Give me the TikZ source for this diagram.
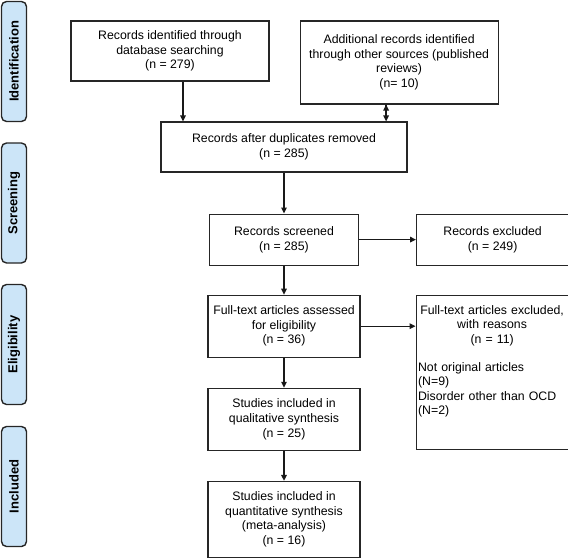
\documentclass[tikz,border=0pt]{standalone}
\usepackage{fontspec}
\setmainfont{Liberation Sans}
\usetikzlibrary{arrows.meta,positioning}
\definecolor{phaseblue}{RGB}{204,229,248}

\begin{document}
\begin{tikzpicture}[x=1pt, y=-1pt, ->, >={Triangle[length=6pt,width=5.5pt]}, node distance=30pt,
  font=\fontsize{12.3}{14.6}\selectfont]

        \tikzstyle{box}=[draw=black!85, line width=1.1pt, align=center, inner sep=2pt]
        \tikzstyle{phase}=[draw=black!85, line width=1.4pt, rounded corners=5pt, fill=phaseblue, rotate=90,
          minimum width=120pt, minimum height=25pt, font=\bfseries\fontsize{13}{15}\selectfont]

        \useasboundingbox (0,0) rectangle (568,558);

        % phases on the left
        \node[phase] (identification) at (14,61.5)  {Identification};
        \node[phase] (screening)      at (14,203)   {Screening};
        \node[phase] (eligibility)    at (14,344.5) {Eligibility};
        \node[phase] (included)       at (14,486.5) {Included};

        % flow boxes
        \node[box, minimum width=198pt, minimum height=60pt] (database) at (170,51)
          {Records identified through\\database searching\\(n = 279)};
        \node[box, minimum width=198pt, minimum height=83pt] (other) [right=30pt of database.north east, anchor=north west]
          {Additional records identified\\through other sources (published\\reviews)\\(n= 10)};
        \node[box, minimum width=246pt, minimum height=50pt] (duplicates) at (284,147)
          {Records after duplicates removed\\(n = 285)};
        \node[box, minimum width=149pt, minimum height=51pt] (screened) [below=41pt of duplicates]
          {Records screened\\(n = 285)};
        \node[box, minimum width=152pt, minimum height=51pt] (excluded) [right=57pt of screened]
          {Records excluded\\(n = 249)};
        \node[box, minimum width=152pt, minimum height=62pt] (fulltext) [below=29pt of screened]
          {Full-text articles assessed\\for eligibility\\(n = 36)};
        \node[box, text width=148pt, align=left, minimum height=154pt] (reasons) [right=55pt of fulltext.north east, anchor=north west]
          {{\centering Full-text articles excluded,\\with reasons\\(n = 11)\par}\vspace{13pt}%
           Not original articles\\(N=9)\\Disorder other than OCD\\(N=2)\rule[-24pt]{0pt}{0pt}};
        \node[box, minimum width=152pt, minimum height=62pt] (qualitative) [below=30pt of fulltext]
          {Studies included in\\qualitative synthesis\\(n = 25)};
        \node[box, minimum width=152pt, minimum height=76pt] (quantitative) [below=30pt of qualitative]
          {Studies included in\\quantitative synthesis\\(meta-analysis)\\(n = 16)};

        \coordinate (databaseout) at ([xshift=13pt]database.south);
        \coordinate (otherout)    at ([xshift=-13pt]other.south);

        \path[line width=1.4pt, draw=black!90]
        (databaseout) edge (databaseout |- duplicates.north)
        (otherout)    edge (otherout |- duplicates.north)
        (duplicates)  edge (screened)
        (screened)    edge (excluded)
        (screened)    edge (fulltext)
        (fulltext)    edge (fulltext -| reasons.west)
        (fulltext)    edge (qualitative)
        (qualitative) edge (quantitative)
        ;
\end{tikzpicture}
\end{document}
